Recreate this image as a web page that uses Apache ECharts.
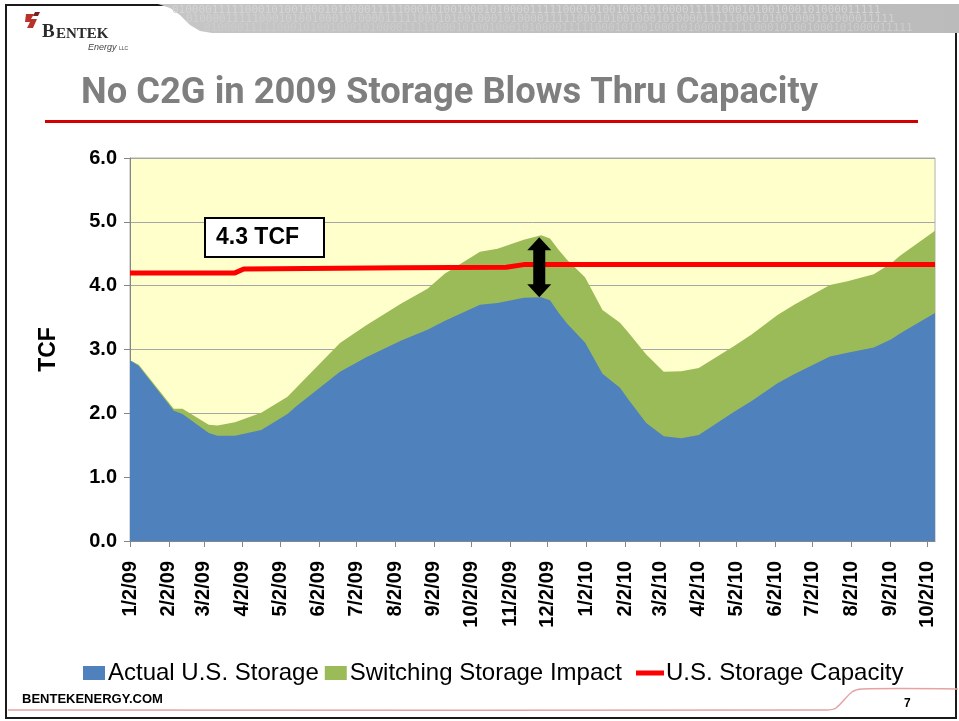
<!DOCTYPE html>
<html>
<head>
<meta charset="utf-8">
<script src="https://cdn.jsdelivr.net/npm/echarts@6/dist/echarts.min.js"></script>
<style>
html,body{margin:0;padding:0;background:#fff;}
#c{width:959px;height:721px;}
</style>
</head>
<body>
<div id="c"></div>
<script>
// ---- data ----
const tickLabels = ['1/2/09','2/2/09','3/2/09','4/2/09','5/2/09','6/2/09','7/2/09','8/2/09','9/2/09','10/2/09','11/2/09','12/2/09',
  '1/2/10','2/2/10','3/2/10','4/2/10','5/2/10','6/2/10','7/2/10','8/2/10','9/2/10','10/2/10'];
const axisStart = '1/2/09';
const axisEnd = '10/8/10';
const yTicks = [0, 1, 2, 3, 4, 5, 6];

const dates = ['1/2/09','1/9/09','2/6/09','2/13/09','3/6/09','3/13/09','3/27/09','4/17/09','5/8/09','5/15/09','6/19/09','7/10/09',
  '8/7/09','8/28/09','9/11/09','10/9/09','10/23/09','11/13/09','11/27/09','12/4/09','12/11/09','12/18/09','1/1/10','1/15/10',
  '1/29/10','2/5/10','2/19/10','3/5/10','3/19/10','4/2/10','4/30/10','5/14/10','6/4/10','6/18/10','7/16/10','7/30/10','8/20/10',
  '9/3/10','9/10/10','10/8/10'];
const actual = [2.83,2.74,2.04,1.99,1.69,1.65,1.65,1.74,1.99,2.11,2.65,2.88,
  3.14,3.31,3.45,3.70,3.73,3.81,3.82,3.77,3.57,3.40,3.11,2.62,
  2.40,2.21,1.85,1.64,1.61,1.66,2.02,2.19,2.47,2.62,2.89,2.95,3.03,
  3.16,3.25,3.57];
const switching = [0.00,0.02,0.03,0.08,0.13,0.16,0.21,0.27,0.27,0.29,0.45,0.50,
  0.58,0.64,0.74,0.83,0.85,0.91,0.97,0.97,0.99,1.00,1.02,1.00,
  1.02,1.05,1.07,1.01,1.05,1.05,1.03,1.04,1.07,1.09,1.12,1.12,1.15,
  1.19,1.22,1.29];
const capDates = ['1/2/09','3/27/09','4/3/09','8/7/09','10/30/09','11/13/09','10/8/10'];
const capacity = [4.20,4.20,4.26,4.28,4.29,4.33,4.33];

const seriesNames = ['Actual U.S. Storage','Switching Storage Impact','U.S. Storage Capacity'];
const annotationText = '4.3 TCF';
const arrowDate = '11/27/09';   // the 2009 peak the double arrow marks
const titleText = 'No C2G in 2009 Storage Blows Thru Capacity';

// ---- helpers: dates -> day number since axis start ----
function ts(s){ const p = s.split('/').map(Number); return Date.UTC(2000 + p[2], p[0]-1, p[1]); }
const t0 = ts(axisStart);
function day(s){ return Math.round((ts(s) - t0) / 86400000); }
const tickDays = tickLabels.map(day);
function labelFor(v){
  let best = 0, bd = Infinity;
  tickDays.forEach((t,i)=>{ const d = Math.abs(t - v); if (d < bd){ bd = d; best = i; } });
  return tickLabels[best];
}
// the switching band sits on top of actual storage (stacked total)
const stackedTotal = actual.map((v,i)=> +(v + switching[i]).toFixed(2));
const FONT = '"Liberation Sans", Arial, sans-serif';

const chart = echarts.init(document.getElementById('c'), null, {renderer:'canvas'});

const option = {
  animation: false,
  backgroundColor: '#ffffff',
  grid: {left:130, right:24, top:158, bottom:180, show:true, backgroundColor:'#FFFFCC', borderColor:'#B0B0B0', borderWidth:1},
  legend: [
    {data:[{name:seriesNames[0], icon:'rect'},{name:seriesNames[1], icon:'rect'}], left:78, top:656, itemWidth:22, itemHeight:14, itemGap:6,
     textStyle:{fontFamily:FONT, fontSize:24, color:'#000', padding:[0,0,0,-2]}},
    {data:[{name:seriesNames[2], icon:'rect'}], left:631, top:656, itemWidth:28, itemHeight:5,
     textStyle:{fontFamily:FONT, fontSize:24, color:'#000', padding:[0,0,0,-3]}}
  ],
  xAxis: {
    type:'value', min: 0, max: day(axisEnd),
    axisLine:{show:true, onZero:false, lineStyle:{color:'#868686', width:1}},
    axisTick:{show:true, customValues: tickDays, length:6, lineStyle:{color:'#868686'}},
    axisLabel:{customValues: tickDays, formatter: v => labelFor(v), rotate:90, margin:20,
      fontFamily:FONT, fontWeight:'bold', fontSize:20, color:'#000'},
    splitLine:{show:false}
  },
  yAxis: {
    type:'value', min:yTicks[0], max:yTicks[yTicks.length-1], interval:1,
    name:'TCF', nameLocation:'middle', nameGap:70,
    nameTextStyle:{fontFamily:FONT, fontWeight:'bold', fontSize:23, color:'#000'},
    axisLine:{show:true, lineStyle:{color:'#868686'}},
    axisTick:{show:true, length:6, lineStyle:{color:'#868686'}},
    axisLabel:{formatter: v => v.toFixed(1), margin:13, fontFamily:FONT, fontWeight:'bold', fontSize:20, color:'#000'},
    splitLine:{show:true, lineStyle:{color:'#A6A6A6', width:1}}
  },
  series: [
    {name:seriesNames[1], type:'line', symbol:'none', lineStyle:{width:0}, itemStyle:{color:'#9BBB59'},
     areaStyle:{color:'#9BBB59', opacity:1, origin:'start'}, data: dates.map((d,i)=>[day(d), stackedTotal[i]]), z:1},
    {name:seriesNames[0], type:'line', symbol:'none', lineStyle:{width:0}, itemStyle:{color:'#4F81BD'},
     areaStyle:{color:'#4F81BD', opacity:1, origin:'start'}, data: dates.map((d,i)=>[day(d), actual[i]]), z:2},
    {name:seriesNames[2], type:'line', symbol:'none', lineStyle:{width:5, color:'#FF0000'}, itemStyle:{color:'#FF0000'},
     data: capDates.map((d,i)=>[day(d), capacity[i]]), z:3}
  ]
};
chart.setOption(option);

// ---- annotations & slide decorations ----
const peak = dates.indexOf(arrowDate);
const pTop = chart.convertToPixel({xAxisIndex:0, yAxisIndex:0}, [day(dates[peak]), stackedTotal[peak]]);
const pBot = chart.convertToPixel({xAxisIndex:0, yAxisIndex:0}, [day(dates[peak]), actual[peak]]);
const cx = pTop[0] - 2, yT = pTop[1] + 2, yB = pBot[1];
const hw = 12, hl = 13, sw = 6;
const arrowPts = [[cx,yT],[cx+hw,yT+hl],[cx+sw,yT+hl],[cx+sw,yB-hl],[cx+hw,yB-hl],[cx,yB],[cx-hw,yB-hl],[cx-sw,yB-hl],[cx-sw,yT+hl],[cx-hw,yT+hl]];

// title width fit
const TITLE_FONT = 'bold 37px Roboto';
const cv = document.createElement('canvas').getContext('2d');
cv.font = TITLE_FONT;
const tw = cv.measureText(titleText).width;
const titleScale = 737 / tw;

const binRow = '01000011111000101001000101000011111000101001000101000011111000101001000101000011111000101001000101000011111';

const graphics = [
  {type:'rect', shape:{x:6, y:5, width:950, height:713}, style:{fill:'none', stroke:'#1a1a1a', lineWidth:2}, z:0},
  {type:'polygon', shape:{points:[[158,4],[959,4],[959,33],[212,33],[200,31],[190,25],[180,15],[170,8]]},
   style:{fill:{type:'linear', x:0, y:0, x2:1, y2:0, colorStops:[{offset:0, color:'#C6C6C6'},{offset:1, color:'#BBBBBB'}]}}, z:1},
  {type:'text', x:172, y:5, style:{text:binRow, font:'11px "DejaVu Sans Mono", monospace', fill:'#D4D4D4'}, z:2},
  {type:'text', x:186, y:14, style:{text:binRow, font:'11px "DejaVu Sans Mono", monospace', fill:'#D0D0D0'}, z:2},
  {type:'text', x:204, y:23, style:{text:binRow, font:'11px "DejaVu Sans Mono", monospace', fill:'#CCCCCC'}, z:2},
  {type:'polygon', shape:{points:[[26,14],[34,14],[31,19],[37,19],[33,28],[27,28],[30,22],[25,22]]}, style:{fill:'#B8322A'}, z:2},
  {type:'polygon', shape:{points:[[35,12],[40,12],[38,16],[33,16]]}, style:{fill:'#7A1F1A'}, z:2},
  {type:'text', x:42, y:23, style:{text:'B', font:'bold 19px "Liberation Serif", serif', fill:'#2B2B2B'}, z:2},
  {type:'text', x:56, y:27, style:{text:'ENTEK', font:'bold 15px "Liberation Serif", serif', fill:'#2B2B2B'}, z:2},
  {type:'text', x:88, y:43, style:{text:'Energy', font:'italic 9px "Liberation Sans", Arial', fill:'#444'}, z:2},
  {type:'text', x:119, y:46, style:{text:'LLC', font:'5px "Liberation Sans", Arial', fill:'#444'}, z:2},
  {type:'text', x:81, y:94, scaleX:titleScale, originX:0, originY:0,
   style:{text:titleText, font:TITLE_FONT, fill:'#7F7F7F', verticalAlign:'middle', align:'left'}, z:2},
  {type:'rect', shape:{x:45, y:120, width:873, height:3}, style:{fill:'#D40000'}, z:2},
  {type:'rect', shape:{x:205, y:218, width:119, height:39}, style:{fill:'#FFFFFF', stroke:'#000', lineWidth:2}, z:20},
  {type:'text', x:216, y:238, style:{text:annotationText, font:'bold 23px "Liberation Sans", Arial', fill:'#000', verticalAlign:'middle'}, z:21},
  {type:'polygon', shape:{points:arrowPts}, style:{fill:'#000'}, z:20},
  {type:'text', x:22, y:699, style:{text:'BENTEKENERGY.COM', font:'bold 13px "Liberation Sans", Arial', fill:'#000', verticalAlign:'middle'}, z:2},
  {type:'text', x:904, y:704, style:{text:'7', font:'bold 12px "Liberation Sans", Arial', fill:'#000', verticalAlign:'middle'}, z:2},
  {type:'polyline', shape:{points:[[8,710],[826,710],[836,708],[852,692],[862,689],[958,689]], smooth:0.3}, style:{stroke:'#E5A3A3', lineWidth:1.5, fill:'none'}, z:2}
];
chart.setOption({graphic:{elements:graphics}});
</script>
</body>
</html>
